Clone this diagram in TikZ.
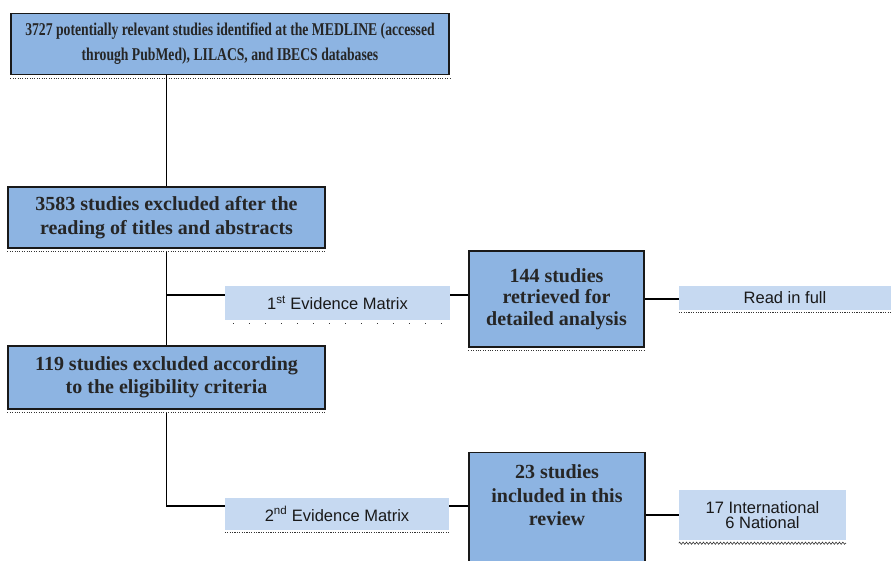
\documentclass[tikz,border=0pt]{standalone}
\usepackage{fontspec}
\newfontfamily\topserif[FakeStretch=0.76]{Liberation Serif}
\newfontfamily\boxserif[FakeStretch=1.0]{Liberation Serif}
\newfontfamily\boxsans{Liberation Sans}
\usetikzlibrary{decorations.pathmorphing}

\definecolor{darkblue}{HTML}{8DB4E2}
\definecolor{paleblue}{HTML}{C6D9F1}

\tikzset{
  dotline/.style={draw=black!80, line width=1.1pt, dash pattern=on 1.1pt off 1.3pt},
  sparseline/.style={draw=black!80, line width=1.3pt, dash pattern=on 1.3pt off 14.7pt},
  zigline/.style={draw=black!80, line width=0.6pt, decorate,
    decoration={zigzag, amplitude=1.1pt, segment length=3.4pt}},
  darkbox/.style={draw=black!90, line width=1.3pt, fill=darkblue, align=center,
    inner sep=0pt, text=black!85,
    font=\boxserif\bfseries\fontsize{20}{23.5}\selectfont,
    append after command={([yshift=-3pt]\tikzlastnode.south west)
      edge[dotline] ([yshift=-3pt]\tikzlastnode.south east)}},
  palebox/.style={fill=paleblue, align=center, inner sep=0pt, text=black!90,
    font=\boxsans\fontsize{16.5}{15}\selectfont},
  palenote/.style={palebox,
    append after command={([yshift=-2pt]\tikzlastnode.south west)
      edge[dotline] ([yshift=-2pt]\tikzlastnode.south east)}},
  link/.style={draw=black, line width=1.3pt},
}

\begin{document}
\begin{tikzpicture}[x=1pt, y=-1pt]
  \useasboundingbox (0,0) rectangle (891,560);
  \clip (0,0) rectangle (891,560);

  % left column
  \node[darkbox, minimum width=438, minimum height=61,
        font=\topserif\bfseries\fontsize{18}{25}\selectfont] (found) at (230,44)
    {3727 potentially relevant studies identified at the MEDLINE (accessed\\
     through PubMed), LILACS, and IBECS databases};
  \node[darkbox, minimum width=317, minimum height=61] (titles) at (166.5,217.5)
    {3583 studies excluded after the\\reading of titles and abstracts};
  \node[darkbox, minimum width=317, minimum height=63] (criteria) at (166.5,377.5)
    {119 studies excluded according\\to the eligibility criteria};

  % first matrix row
  \node[palebox, minimum width=225, minimum height=34] (matrixA) at (337.5,303)
    {1\textsuperscript{st} Evidence Matrix};
  \draw[sparseline] ([xshift=8pt, yshift=-3pt]matrixA.south west) -- ([yshift=-3pt]matrixA.south east);
  \node[darkbox, minimum width=175, minimum height=96,
        font=\boxserif\bfseries\fontsize{20}{21.5}\selectfont] (retrieved) at (556.5,299)
    {144 studies\\retrieved for\\detailed analysis};
  \node[palenote, minimum width=212, minimum height=24] (fulltext) at (785,298)
    {Read in full};

  % second matrix row
  \node[palenote, minimum width=224, minimum height=32] (matrixB) at (337,514)
    {2\textsuperscript{nd} Evidence Matrix};
  \node[darkbox, anchor=north, minimum width=176, minimum height=125,
        text depth=40pt] (included) at (557,452)
    {23 studies\\included in this\\review};
  \node[palebox, minimum width=167, minimum height=50] (origin) at (762.5,515)
    {17 International\\6 National};
  \draw[zigline] ([yshift=-3pt]origin.south west) -- ([yshift=-3pt]origin.south east);

  % connectors
  \draw[link] (titles.north |- found.south) -- (titles.north);
  \draw[link] ([yshift=-3pt]titles.south) -- (criteria.north);
  \draw[link] ([yshift=8pt]titles.south |- matrixA.west) -- ([yshift=8pt]matrixA.west);
  \draw[link] ([yshift=8pt]matrixA.east) -- ([yshift=8pt]matrixA.east -| retrieved.west);
  \draw[link] (retrieved.east) -- (retrieved.east -| fulltext.west);
  \draw[link] ([yshift=-3pt]criteria.south) |- ([yshift=8pt]matrixB.west);
  \draw[link] ([yshift=8pt]matrixB.east) -- ([yshift=8pt]matrixB.east -| included.west);
  \draw[link] (origin.west -| included.east) -- (origin.west);
\end{tikzpicture}
\end{document}
